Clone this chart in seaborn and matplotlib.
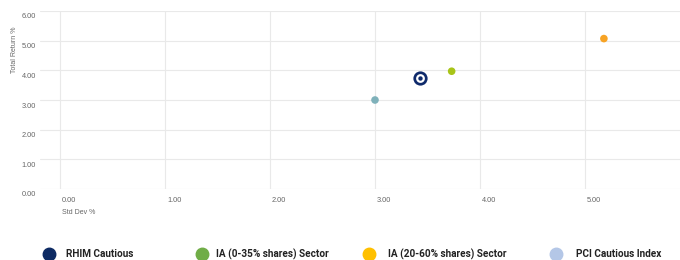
import matplotlib
matplotlib.use("Agg")
import matplotlib.pyplot as plt
import seaborn as sns
import pandas as pd
from matplotlib.lines import Line2D
from matplotlib.transforms import ScaledTranslation

# Data
names = ["RHIM Cautious", "IA (0-35% shares) Sector", "IA (20-60% shares) Sector", "PCI Cautious Index"]
std_dev = [3.43, 3.73, 5.18, 3.00]
total_return = [3.75, 3.97, 5.07, 3.00]
point_colors = ["#0F2A6B", "#A8C418", "#F7A325", "#7FB1BA"]
legend_colors = ["#0D2A63", "#70AD47", "#FFC000", "#B4C7E7"]
x_ticks = [0, 1, 2, 3, 4, 5]
y_ticks = [0, 1, 2, 3, 4, 5, 6]

df = pd.DataFrame({"name": names, "std": std_dev, "ret": total_return})

sns.set_theme(style="white")
plt.rcParams["font.family"] = ["Liberation Sans", "DejaVu Sans"]

W, H = 680, 260
fig = plt.figure(figsize=(W / 100, H / 100), dpi=100)
ax_left, ax_right = 40, 680
ax_top, ax_bot = 11, 189
ax = fig.add_axes([ax_left / W, 1 - ax_bot / H, (ax_right - ax_left) / W, (ax_bot - ax_top) / H])

# other points
others = df.iloc[1:]
sns.scatterplot(data=others, x="std", y="ret", hue="name",
                palette=dict(zip(names[1:], point_colors[1:])),
                s=30, linewidth=0, legend=False, ax=ax, zorder=3)
# RHIM ring marker
rh = df.iloc[:1]
sns.scatterplot(data=rh, x="std", y="ret", color=point_colors[0], s=105, linewidth=0, legend=False, ax=ax, zorder=4)
sns.scatterplot(data=rh, x="std", y="ret", color="white", s=40, linewidth=0, legend=False, ax=ax, zorder=5)
sns.scatterplot(data=rh, x="std", y="ret", color=point_colors[0], s=10, linewidth=0, legend=False, ax=ax, zorder=6)

ax.set_xlim(-20 / 105, (680 - 60) / 105)
ax.set_ylim(0, 6)
ax.set_xticks(x_ticks)
ax.set_yticks(y_ticks)
ax.set_xticklabels([f"{v:.2f}" for v in x_ticks])
ax.set_yticklabels([f"{v:.2f}" for v in y_ticks])
ax.grid(True, color="#E9E9E9", linewidth=0.8)
ax.set_axisbelow(True)
for sp in ax.spines.values():
    sp.set_visible(False)
ax.tick_params(axis="both", length=0, labelsize=5.3, labelcolor="#666666")
ax.tick_params(axis="y", pad=3)
ax.tick_params(axis="x", pad=6)
for lab in ax.get_xticklabels():
    lab.set_horizontalalignment("left")
    lab.set_transform(lab.get_transform() + ScaledTranslation(2 / 100, 0, fig.dpi_scale_trans))
for lab in ax.get_yticklabels():
    lab.set_transform(lab.get_transform() + ScaledTranslation(0, -5 / 100, fig.dpi_scale_trans))
ax.set_xlabel("")
ax.set_ylabel("")

fig.text(15 / W, 1 - 50 / H, "Total Return %", rotation=90, ha="center", va="center",
         fontsize=5.0, color="#666666")
fig.text(62 / W, 1 - 212 / H, "Std Dev %", ha="left", va="center", fontsize=5.0, color="#666666")

# legend
leg_marker_x = [49, 202, 369, 556]
leg_text_x = [66, 216, 388, 576]
leg_y = 254
for mx, tx, c, n in zip(leg_marker_x, leg_text_x, legend_colors, names):
    fig.add_artist(Line2D([mx / W], [1 - leg_y / H], marker="o", markersize=9,
                          color=c, linestyle="none", transform=fig.transFigure))
    fig.text(tx / W, 1 - leg_y / H, n, ha="left", va="center", fontsize=7.2,
             fontweight="bold", color="#222222",
             family=["Roboto", "DejaVu Sans"])

fig.savefig("out.png", dpi=100)
